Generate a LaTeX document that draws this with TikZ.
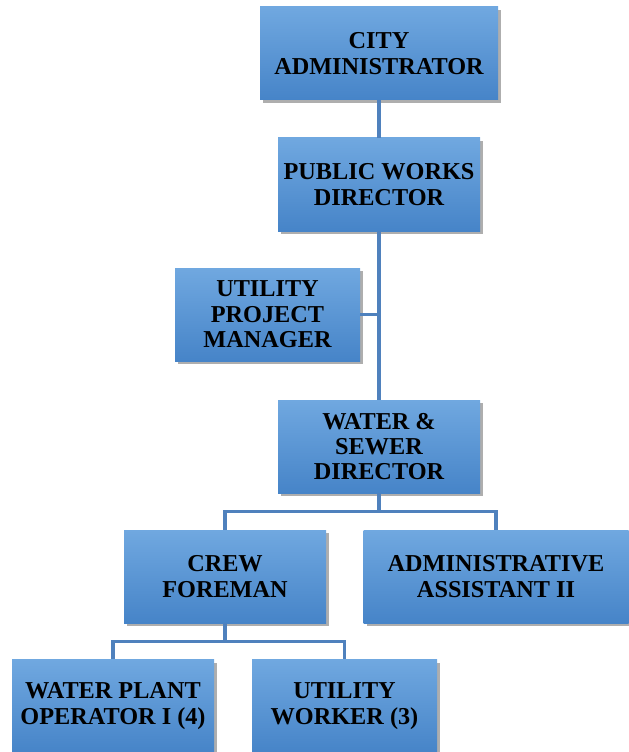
\documentclass[tikz,border=0pt]{standalone}
\usepackage{fontspec}
\setmainfont{Liberation Serif}
\usetikzlibrary{shadows,calc}
\definecolor{boxtop}{HTML}{70A8E0}
\definecolor{boxbot}{HTML}{4684C8}
\definecolor{linec}{HTML}{4F81BD}
\tikzset{
  orgbox/.style={rectangle, top color=boxtop, bottom color=boxbot, draw=none,
    minimum height=93*0.75pt, inner sep=2pt, align=center,
    font=\fontsize{18.2}{19}\selectfont\bfseries, text=black,
    drop shadow={shadow xshift=2.5pt, shadow yshift=-2.5pt, opacity=0.45, fill=black!70}},
  conn/.style={draw=linec, line width=2.3pt}
}
\begin{document}
\begin{tikzpicture}[x=0.75pt,y=-0.75pt]
\useasboundingbox (0,0) rectangle (628,752);
\fill[white] (0,0) rectangle (628,752);
\node[orgbox, minimum width=238*0.75pt] (city) at (379,53.5) {CITY\\ADMINISTRATOR};
\node[orgbox, minimum width=202*0.75pt] (pwd) at (379,184.5) {PUBLIC WORKS\\DIRECTOR};
\node[orgbox, minimum width=185*0.75pt] (upm) at (267.5,314.5) {UTILITY\\PROJECT\\MANAGER};
\node[orgbox, minimum width=202*0.75pt] (wsd) at (379,446.5) {WATER \&\\SEWER\\DIRECTOR};
\node[orgbox, minimum width=202*0.75pt] (crew) at (225,576.5) {CREW\\FOREMAN};
\node[orgbox, minimum width=265*0.75pt] (admin) at (496,576.5) {ADMINISTRATIVE\\ASSISTANT II};
\node[orgbox, minimum width=202*0.75pt] (wpo) at (113,706) {WATER PLANT\\OPERATOR I (4)};
\node[orgbox, minimum width=185*0.75pt] (uw) at (344.5,706) {UTILITY\\WORKER (3)};
\draw[conn] (city.south) -- (pwd.north);
\draw[conn] (pwd.south) -- (wsd.north);
\draw[conn] (upm.east) -- (upm.east -| pwd.south);
\coordinate (j1) at ($(wsd.south)+(0,18)$);
\draw[conn] (wsd.south) -- (j1);
\draw[conn] (crew.north) |- (j1) -| (admin.north);
\coordinate (j2) at ($(crew.south)+(0,18)$);
\draw[conn] (crew.south) -- (j2);
\draw[conn] (wpo.north) |- (j2) -| (uw.north);
\end{tikzpicture}
\end{document}
